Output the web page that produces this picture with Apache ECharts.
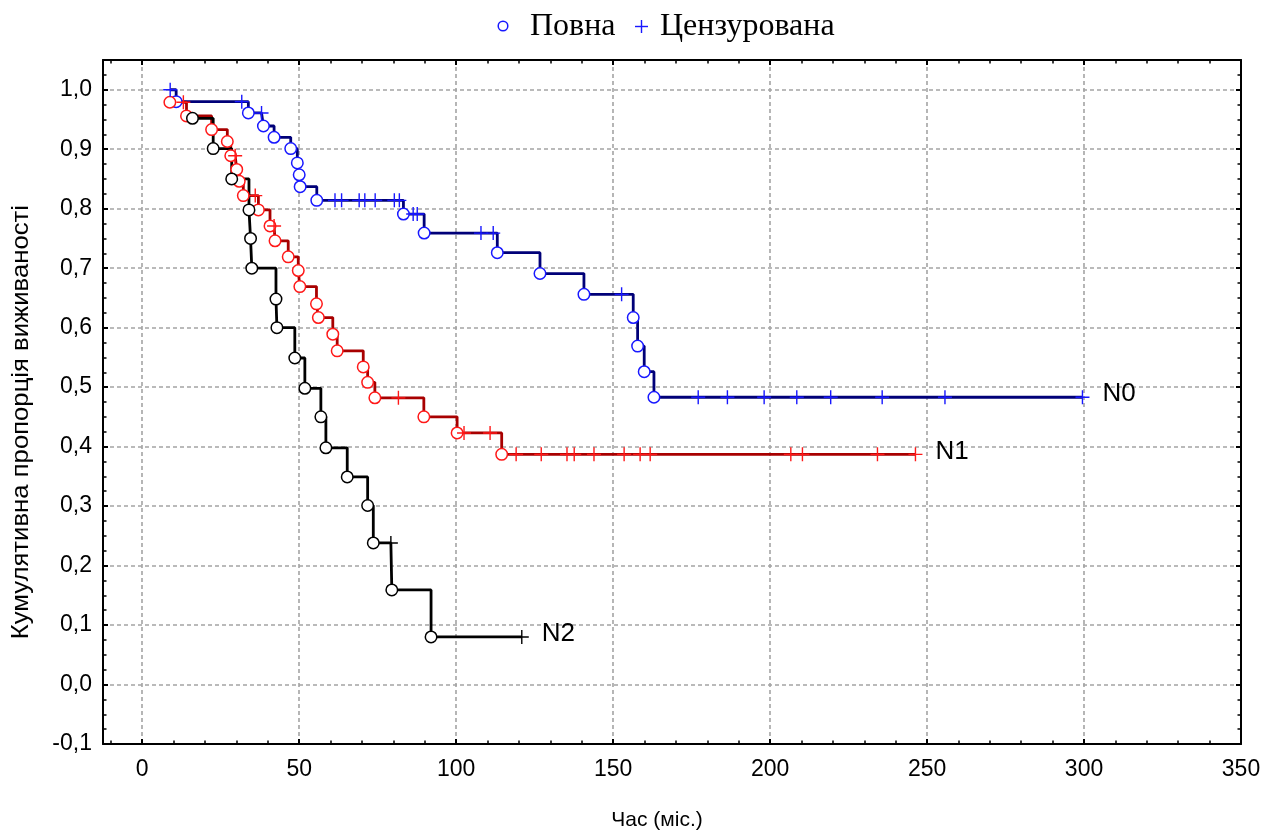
<!DOCTYPE html>
<html>
<head>
<meta charset="utf-8">
<script src="https://cdn.jsdelivr.net/npm/echarts@6/dist/echarts.min.js"></script>
<style>
  html, body { margin: 0; padding: 0; background: #fff; }
  #chart { width: 1263px; height: 830px; }
</style>
</head>
<body>
<div id="chart"></div>
<script>
// Kaplan–Meier survival by nodal status.
// Time in months, cumulative proportion surviving, flag: 1 = complete (event), 0 = censored.
const n0Time  = [8.9, 10.8, 31.7, 33.8, 38.0, 38.6, 42.0, 47.3, 49.4, 50.0, 50.3, 55.6,
                 61.4, 63.5, 69.1, 70.9, 74.2, 80.3, 81.9, 83.2, 86.3, 87.6, 89.8,
                 107.9, 111.8, 113.1, 126.7, 140.7, 152.7, 156.4, 157.8, 159.9, 163.0,
                 177.1, 186.4, 198.1, 208.5, 219.3, 235.7, 255.7, 299.5];
const n0Surv  = [1.000, 0.980, 0.980, 0.961, 0.961, 0.939, 0.920, 0.901, 0.877, 0.857, 0.837, 0.814,
                 0.814, 0.814, 0.814, 0.814, 0.814, 0.814, 0.814, 0.791, 0.791, 0.791, 0.759,
                 0.759, 0.759, 0.726, 0.691, 0.656, 0.656, 0.617, 0.569, 0.526, 0.483,
                 0.483, 0.483, 0.483, 0.483, 0.483, 0.483, 0.483, 0.483];
const n0Event = [0, 1, 0, 1, 0, 1, 1, 1, 1, 1, 1, 1,
                 0, 0, 0, 0, 0, 0, 0, 1, 0, 0, 1,
                 0, 0, 1, 1, 1, 0, 1, 1, 1, 1,
                 0, 0, 0, 0, 0, 0, 0, 0];

const n1Time  = [8.8, 13.1, 14.1, 22.1, 27.1, 28.2, 29.6, 30.1, 30.9, 32.2, 36.0, 37.0,
                 40.7, 42.0, 42.3, 46.5, 49.7, 50.2, 55.5, 56.1, 60.7, 62.1, 70.4, 71.8,
                 74.1, 81.6, 89.7, 100.3, 102.5, 110.8, 114.5, 119.1, 127.1, 135.3, 137.6,
                 143.9, 153.5, 158.6, 161.8, 206.6, 210.3, 234.2, 246.3];
const n1Surv  = [0.979, 0.979, 0.956, 0.933, 0.913, 0.889, 0.889, 0.866, 0.846, 0.822, 0.822, 0.798,
                 0.771, 0.771, 0.746, 0.719, 0.696, 0.669, 0.640, 0.617, 0.589, 0.561, 0.534, 0.508,
                 0.482, 0.482, 0.450, 0.423, 0.423, 0.423, 0.387, 0.387, 0.387, 0.387, 0.387,
                 0.387, 0.387, 0.387, 0.387, 0.387, 0.387, 0.387, 0.387];
const n1Event = [1, 0, 1, 1, 1, 1, 0, 1, 1, 1, 0, 1,
                 1, 0, 1, 1, 1, 1, 1, 1, 1, 1, 1, 1,
                 1, 0, 1, 1, 0, 0, 1, 0, 0, 0, 0,
                 0, 0, 0, 0, 0, 0, 0, 0];

const n2Time  = [16.0, 22.6, 28.5, 34.0, 34.5, 34.9, 42.6, 42.9, 48.6, 51.8, 56.9, 58.5,
                 65.3, 71.8, 73.6, 79.2, 79.5, 92.0, 120.9];
const n2Surv  = [0.952, 0.901, 0.850, 0.798, 0.750, 0.700, 0.648, 0.600, 0.549, 0.498, 0.450, 0.398,
                 0.349, 0.301, 0.238, 0.238, 0.159, 0.080, 0.080];
const n2Event = [1, 1, 1, 1, 1, 1, 1, 1, 1, 1, 1, 1,
                 1, 1, 1, 0, 1, 1, 0];

const groupNames = ['N0', 'N1', 'N2'];
const legendNames = ['Повна', 'Цензурована'];
const xTickValues = [0, 50, 100, 150, 200, 250, 300, 350];
const yTickValues = [-0.1, 0.0, 0.1, 0.2, 0.3, 0.4, 0.5, 0.6, 0.7, 0.8, 0.9, 1.0];
const xAxisTitle = 'Час (міс.)';
const yAxisTitle = 'Кумулятивна пропорція виживаності';

// minor tick positions (10 months on x, 0.025 on y)
const xMinor = [];
for (let v = -10; v <= 350; v += 10) xMinor.push(v);
const yMinor = [];
for (let k = 0; k <= 46; k++) yMinor.push(Math.round((-0.1 + k * 0.025) * 1000) / 1000);

const groups = [
  { name: groupNames[0], t: n0Time, s: n0Surv, e: n0Event, line: '#000078', mark: '#1818ff' },
  { name: groupNames[1], t: n1Time, s: n1Surv, e: n1Event, line: '#a80000', mark: '#ff1818' },
  { name: groupNames[2], t: n2Time, s: n2Surv, e: n2Event, line: '#000000', mark: '#000000' }
];

const PLUS = 'path://M5,0L5,10M0,5L10,5';
const FONT = 'Liberation Sans, Arial, sans-serif';
const SERIF = 'Liberation Serif, Times New Roman, serif';

const X_MIN = -12.5, X_MAX = 350, Y_MIN = -0.1, Y_MAX = 1.05;

function xAxisDef(position, ticks, len, major) {
  const main = major && position === 'bottom';
  return {
    type: 'value', position: position, min: X_MIN, max: X_MAX,
    axisLine: { show: major, onZero: false, lineStyle: { color: '#000', width: 2 } },
    axisTick: { show: true, inside: true, length: len, customValues: ticks,
                lineStyle: { color: '#000', width: major ? 2 : 1.5 } },
    axisLabel: main
      ? { show: true, customValues: xTickValues, fontFamily: FONT, fontSize: 23, color: '#000', margin: 14 }
      : { show: false },
    splitLine: main
      ? { show: true, lineStyle: { color: '#a4a4a4', width: 1.6, type: [4, 3] } }
      : { show: false },
    name: main ? xAxisTitle : '',
    nameLocation: 'middle', nameGap: 66,
    nameTextStyle: { fontFamily: FONT, fontSize: 21, color: '#000', padding: [0, 30, 0, 0] }
  };
}

function yAxisDef(position, ticks, len, major) {
  const main = major && position === 'left';
  return {
    type: 'value', position: position, min: Y_MIN, max: Y_MAX,
    axisLine: { show: major, onZero: false, lineStyle: { color: '#000', width: 2 } },
    axisTick: { show: true, inside: true, length: len, customValues: ticks,
                lineStyle: { color: '#000', width: major ? 2 : 1.5 } },
    axisLabel: main
      ? { show: true, customValues: yTickValues, fontFamily: FONT, fontSize: 23, color: '#000', margin: 11,
          formatter: v => v.toFixed(1).replace('.', ',') }
      : { show: false },
    splitLine: main
      ? { show: true, lineStyle: { color: '#a4a4a4', width: 1.6, type: [4, 3] } }
      : { show: false }
  };
}

const series = [];
// step curves
groups.forEach(g => {
  series.push({
    type: 'line', name: g.name, step: 'end', symbol: 'none', z: 2,
    data: g.t.map((t, i) => [t, g.s[i]]),
    lineStyle: { color: g.line, width: 2.8 },
    endLabel: { show: true, formatter: g.name, fontFamily: FONT, fontSize: 26, color: '#000',
                distance: 20, offset: [0, -3] },
    emphasis: { disabled: true }, silent: true
  });
});
// complete (circle) and censored (plus) observations
groups.forEach(g => {
  series.push({
    type: 'scatter', name: legendNames[0], symbol: 'circle', symbolSize: 11.5, z: 4,
    data: g.t.map((t, i) => [t, g.s[i], g.e[i]]).filter(d => d[2] === 1).map(d => [d[0], d[1]]),
    itemStyle: { color: '#fff', borderColor: g.mark, borderWidth: 1.5, opacity: 1 },
    emphasis: { disabled: true }, silent: true
  });
  series.push({
    type: 'scatter', name: legendNames[1], symbol: PLUS, symbolSize: 14, z: 5,
    data: g.t.map((t, i) => [t, g.s[i], g.e[i]]).filter(d => d[2] === 0).map(d => [d[0], d[1]]),
    itemStyle: { color: 'none', borderColor: g.mark, borderWidth: 1.4, opacity: 1 },
    emphasis: { disabled: true }, silent: true
  });
});

// legend row: marker keys and captions
const legendKey = groups[0].mark;
const legendGraphics = [
  { type: 'circle', shape: { cx: 503, cy: 26, r: 4.8 },
    style: { fill: '#fff', stroke: legendKey, lineWidth: 1.5 }, silent: true },
  { type: 'text', x: 530, y: 27,
    style: { text: legendNames[0], fontFamily: SERIF, fontSize: 32, fill: '#000', verticalAlign: 'middle' },
    silent: true },
  { type: 'polyline', shape: { points: [[635, 26.5], [648, 26.5]] },
    style: { stroke: legendKey, lineWidth: 1.4, fill: null }, silent: true },
  { type: 'polyline', shape: { points: [[641.5, 20], [641.5, 33]] },
    style: { stroke: legendKey, lineWidth: 1.4, fill: null }, silent: true },
  { type: 'text', x: 660, y: 27,
    style: { text: legendNames[1], fontFamily: SERIF, fontSize: 32, fill: '#000', verticalAlign: 'middle' },
    silent: true }
];

const chart = echarts.init(document.getElementById('chart'), null, { renderer: 'canvas' });
chart.setOption({
  animation: false,
  backgroundColor: '#fff',
  grid: { left: 103, right: 22, top: 60, bottom: 86, outerBoundsMode: 'none', containLabel: false },
  graphic: legendGraphics.concat([{
    type: 'text', left: 9, top: 205,
    style: { text: yAxisTitle, fontFamily: FONT, fontSize: 24, fill: '#000' },
    rotation: Math.PI / 2, scaleX: 1.07, originX: 0, originY: 0, silent: true
  }]),
  xAxis: [
    xAxisDef('bottom', xTickValues, 5, true),
    xAxisDef('bottom', xMinor, 3.5, false),
    xAxisDef('top', xTickValues, 5, true),
    xAxisDef('top', xMinor, 3.5, false)
  ],
  yAxis: [
    yAxisDef('left', yTickValues, 5, true),
    yAxisDef('left', yMinor, 3.5, false),
    yAxisDef('right', yTickValues, 5, true),
    yAxisDef('right', yMinor, 3.5, false)
  ],
  series: series
});
</script>
</body>
</html>
